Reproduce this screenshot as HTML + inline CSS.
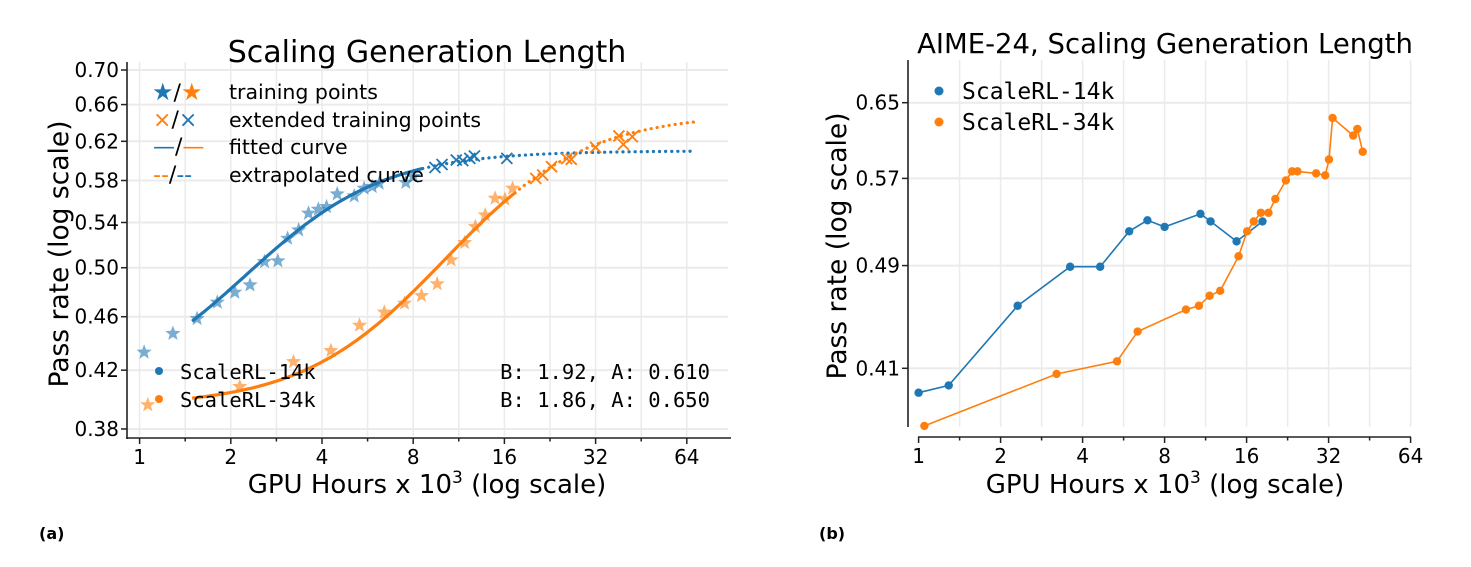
<!DOCTYPE html>
<html><head><meta charset="utf-8">
<style>
body{margin:0;background:#fff;width:1471px;height:567px;overflow:hidden}
svg{display:block}
text{font-family:"DejaVu Sans","Liberation Sans",sans-serif;fill:#000}
.mono{font-family:"DejaVu Sans Mono","Liberation Mono",monospace}
</style></head>
<body>
<svg id="c" width="1471" height="567"></svg>
<script>
// ---- Chart (a) data ----
const aXTicks = [1,2,4,8,16,32,64];
const aYTicks = [0.38,0.42,0.46,0.50,0.54,0.58,0.62,0.66,0.70];
const blueStarX = [1.035,1.288,1.548,1.805,2.062,2.315,2.583,2.86,3.08,3.35,3.61,3.89,4.14,4.49,5.11,5.51,5.86,6.18,7.56,8.0];
const blueStarY = [0.433,0.447,0.4585,0.4714,0.4795,0.4855,0.5052,0.5058,0.5256,0.5331,0.5485,0.5522,0.5547,0.5668,0.5649,0.5723,0.574,0.5772,0.578,0.584];
const blueCrossX = [9.44,9.96,11.1,11.66,12.3,12.74,16.3];
const blueCrossY = [0.593,0.596,0.6006,0.600,0.6023,0.6047,0.6023];
const orStarX = [1.064,2.14,3.22,4.28,5.32,6.42,7.49,8.52,9.6,10.67,11.82,12.83,13.83,14.91,16.07,17.03];
const orStarY = [0.3959,0.4084,0.4261,0.4342,0.4533,0.4635,0.4706,0.4768,0.4864,0.5066,0.5218,0.5362,0.5469,0.5627,0.5617,0.5723];
const orCrossX = [20.3,21.4,22.9,25.7,26.6,32.0,38.2,39.5,42.3];
const orCrossY = [0.5821,0.5855,0.5938,0.602,0.6013,0.6137,0.6257,0.6168,0.6249];
// fitted curve params: [A, B, R0, Cmid, fitStart, fitEnd, extrapEnd]
const blueFit = [0.610,1.92,0.40,2.51,1.49,8.6,68];
const orFit = [0.650,1.86,0.395,11.6,1.49,17.3,68];
// ---- Chart (b) data ----
const bXTicks = [1,2,4,8,16,32,64];
const bYTicks = [0.41,0.49,0.57,0.65];
const b14X = [1.0,1.29,2.31,3.6,4.64,5.93,6.92,8.0,10.83,11.8,14.7,18.3];
const b14Y = [0.393,0.398,0.457,0.489,0.489,0.520,0.530,0.524,0.536,0.529,0.511,0.529];
const b34X = [1.05,3.21,5.35,6.37,9.58,10.69,11.7,12.8,14.95,16.07,17.0,18.05,19.25,20.4,22.3,23.5,24.6,28.8,31.1,32.1,33.1,39.4,40.8,42.7];
const b34Y = [0.371,0.406,0.415,0.437,0.454,0.457,0.465,0.469,0.498,0.520,0.529,0.537,0.537,0.550,0.568,0.577,0.577,0.575,0.573,0.589,0.633,0.614,0.621,0.597];

const BLUE='#1f77b4', OR='#ff7f0e', GRID='#ebebeb';
const svg=document.getElementById('c');
const NS='http://www.w3.org/2000/svg';
function el(tag,attrs,parent){const e=document.createElementNS(NS,tag);for(const k in attrs)e.setAttribute(k,attrs[k]);(parent||svg).appendChild(e);return e;}
function txt(s,x,y,attrs,parent){const t=el('text',Object.assign({x:x,y:y},attrs||{}),parent);t.textContent=s;return t;}

const ax=v=>139.6+91.2*Math.log2(v);
const ay=v=>70+587.6*Math.log(0.70/v);
const bx=v=>918.6+82*Math.log2(v);
const by=v=>102.7+576.4*Math.log(0.65/v);

// ===== Chart (a) =====
const gA=el('g',{});


for(let k=-0.5;k<=6.5;k+=0.5){const x=ax(Math.pow(2,k));if(x<128||x>728)continue;
 const l=el('line',{x1:x,x2:x,y1:62,y2:436,stroke:GRID,'stroke-width':1.5},gA);
 
 }
aYTicks.forEach(v=>{const y=ay(v);const l=el('line',{x1:128,x2:728,y1:y,y2:y,stroke:GRID,'stroke-width':2},gA);
 
 });
el('line',{x1:127,x2:127,y1:62,y2:439,stroke:'#222','stroke-width':1.6},gA);
el('line',{x1:126,x2:731,y1:438,y2:438,stroke:'#222','stroke-width':1.6},gA);
aYTicks.forEach(v=>{const y=ay(v);el('line',{x1:121,x2:127,y1:y,y2:y,stroke:'#222','stroke-width':1.5},gA);
 const t=txt(v.toFixed(2),119,y+7,{'text-anchor':'end','font-size':20},gA);
 
 });
for(let k=-0.5;k<=6.5;k+=0.5){const x=ax(Math.pow(2,k));if(x<127||x>731)continue;
 el('line',{x1:x,x2:x,y1:438,y2:438+(k%1===0?6:3.5),stroke:'#222','stroke-width':1.5},gA);}
aXTicks.forEach(v=>{const t=txt(String(v),ax(v),464,{'text-anchor':'middle','font-size':20},gA);
 
 });
const tA=txt('Scaling Generation Length',427,62,{'text-anchor':'middle','font-size':30},gA);


const yA=txt('Pass rate (log scale)',0,0,{'text-anchor':'middle','font-size':26.5,transform:'translate(68,254) rotate(-90)'},gA);


const xA=el('text',{x:427,y:493,'text-anchor':'middle','font-size':26},gA);
xA.innerHTML='GPU Hours x 10<tspan dy="-10" font-size="17">3</tspan><tspan dy="10"> (log scale)</tspan>';



function starPath(cx,cy,r){let d='';for(let i=0;i<10;i++){const rr=i%2?r*0.42:r;const a=-Math.PI/2+i*Math.PI/5;d+=(i?'L':'M')+(cx+rr*Math.cos(a)).toFixed(1)+','+(cy+rr*Math.sin(a)).toFixed(1);}return d+'Z';}
function curvePts(p,c0,c1){const pts=[];for(let i=0;i<=80;i++){const c=c0*Math.pow(c1/c0,i/80);const r=p[2]+(p[0]-p[2])/(1+Math.pow(p[3]/c,p[1]));pts.push(ax(c).toFixed(1)+','+ay(r).toFixed(1));}return pts.join(' ');}
[[blueFit,BLUE,'blue'],[orFit,OR,'orange']].forEach(([p,col,nm])=>{
 const f=el('polyline',{points:curvePts(p,p[4],p[5]),fill:'none',stroke:col,'stroke-width':3.2},gA);
 
 
 const e=el('polyline',{points:curvePts(p,p[5],p[6]),fill:'none',stroke:col,'stroke-width':3.2,'stroke-dasharray':'0.1 6','stroke-linecap':'round'},gA);
 
 
});
function stars(X,Y,col,nm){X.forEach((v,i)=>{const s=el('path',{d:starPath(ax(v),ay(Y[i]),8),fill:col,'fill-opacity':0.6},gA);
 
 });}
function crosses(X,Y,col,nm){X.forEach((v,i)=>{const x=ax(v),y=ay(Y[i]),r=5.5;
 const g=el('path',{d:`M${x-r},${y-r}L${x+r},${y+r}M${x-r},${y+r}L${x+r},${y-r}`,stroke:col,'stroke-width':1.8,fill:'none'},gA);
 
 });}
stars(blueStarX,blueStarY,BLUE,'blue-training-point');
stars(orStarX,orStarY,OR,'orange-training-point');
crosses(blueCrossX,blueCrossY,BLUE,'blue-extended-point');
crosses(orCrossX,orCrossY,OR,'orange-extended-point');

// ===== Chart (b) =====
const gB=el('g',{});


for(let k=0.5;k<=6;k+=0.5){const x=bx(Math.pow(2,k));
 const l=el('line',{x1:x,x2:x,y1:60,y2:427,stroke:GRID,'stroke-width':1.5},gB);
 
 }
bYTicks.forEach(v=>{const y=by(v);const l=el('line',{x1:909,x2:1412,y1:y,y2:y,stroke:GRID,'stroke-width':2},gB);
 
 
 el('line',{x1:902,x2:908,y1:y,y2:y,stroke:'#222','stroke-width':1.5},gB);
 const t=txt(v.toFixed(2),900,y+7,{'text-anchor':'end','font-size':20},gB);
 
 });
el('line',{x1:908,x2:908,y1:60,y2:427,stroke:'#222','stroke-width':1.6},gB);
el('line',{x1:918,x2:1411,y1:437,y2:437,stroke:'#222','stroke-width':1.6},gB);
for(let k=0;k<=6;k+=0.5){const x=bx(Math.pow(2,k));el('line',{x1:x,x2:x,y1:437,y2:437+(k%1===0?6:3.5),stroke:'#222','stroke-width':1.5},gB);}
bXTicks.forEach(v=>{const t=txt(String(v),bx(v),463,{'text-anchor':'middle','font-size':20},gB);
 
 });
const tB=txt('AIME-24, Scaling Generation Length',1165,53,{'text-anchor':'middle','font-size':27.5},gB);


const yB=txt('Pass rate (log scale)',0,0,{'text-anchor':'middle','font-size':26.5,transform:'translate(846,246) rotate(-90)'},gB);


const xB=el('text',{x:1165,y:493,'text-anchor':'middle','font-size':26},gB);
xB.innerHTML='GPU Hours x 10<tspan dy="-10" font-size="17">3</tspan><tspan dy="10"> (log scale)</tspan>';


function series(X,Y,col,nm){
 const l=el('polyline',{points:X.map((v,i)=>bx(v).toFixed(1)+','+by(Y[i]).toFixed(1)).join(' '),fill:'none',stroke:col,'stroke-width':1.6},gB);
 
 
 X.forEach((v,i)=>{const c=el('circle',{cx:bx(v),cy:by(Y[i]),r:4.2,fill:col},gB);
  
  });}
series(b14X,b14Y,BLUE,'scalerl-14k');
series(b34X,b34Y,OR,'scalerl-34k');
</script>
<svg style="position:absolute;left:0;top:0" width="1471" height="567">
 <g font-size="20.5">
  <text x="152" y="100" font-size="22"><tspan fill="#1f77b4" font-size="24">★</tspan>/<tspan fill="#ff7f0e" font-size="24">★</tspan></text>
  <text x="229" y="99">training points</text>
  <text x="153" y="127" font-size="22"><tspan fill="#ff7f0e">×</tspan>/<tspan fill="#1f77b4">×</tspan></text>
  <text x="229" y="127">extended training points</text>
  <text x="153" y="154" font-size="22"><tspan fill="#1f77b4">—</tspan>/<tspan fill="#ff7f0e">—</tspan></text>
  <text x="229" y="154">fitted curve</text>
  <text x="153" y="182" font-size="22"><tspan fill="#ff7f0e">--</tspan>/<tspan fill="#1f77b4">--</tspan></text>
  <text x="229" y="182">extrapolated curve</text>
  <circle cx="159" cy="371" r="4" fill="#1f77b4"/>
  <text class="mono" x="180" y="379">ScaleRL-14k</text>
  <circle cx="159" cy="399" r="4" fill="#ff7f0e"/>
  <text class="mono" x="180" y="407">ScaleRL-34k</text>
  <text class="mono" x="710" y="379" text-anchor="end">B: 1.92, A: 0.610</text>
  <text class="mono" x="710" y="407" text-anchor="end">B: 1.86, A: 0.650</text>
 </g>
 <g font-size="23">
  <circle cx="939" cy="91" r="4.5" fill="#1f77b4"/>
  <text class="mono" x="962" y="99">ScaleRL-14k</text>
  <circle cx="939" cy="122" r="4.5" fill="#ff7f0e"/>
  <text class="mono" x="962" y="130">ScaleRL-34k</text>
 </g>
 <text x="39" y="539" font-size="16" font-weight="bold">(a)</text>
 <text x="819" y="539" font-size="16" font-weight="bold">(b)</text>
</svg>
</body></html>
